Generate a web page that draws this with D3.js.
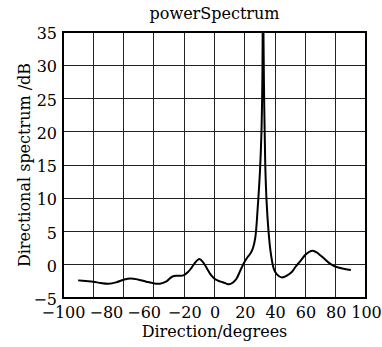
<!DOCTYPE html>
<html>
<head>
<meta charset="utf-8">
<script src="https://cdn.jsdelivr.net/npm/d3@7"></script>
<style>
  body { margin: 0; background: #fff; }
  text { font-family: "DejaVu Serif", serif; fill: #000; }
</style>
</head>
<body>
<div id="Chart"></div>
<script>
// values
const direction = [
  -90, -85, -80, -75, -70, -65, -60, -55.5, -50, -45, -40, -36, -32, -28, -24,
  -20.5, -17.5, -15, -12.5, -10, -7.5, -5, -2.5, 0, 2.5, 5, 7.5, 9.5, 12, 14.5,
  17, 19.5, 22, 24, 25.5, 27, 28.5, 30, 31, 31.6, 32, 32.6, 33.5, 34.5, 35.5,
  37, 39, 41, 44.5, 48, 51, 53.5, 56.5, 60, 62.5, 65, 67.5, 70, 73, 76, 79,
  82.5, 86, 90
];
const spectrum = [
  -2.35, -2.45, -2.55, -2.75, -2.85, -2.65, -2.25, -2.05, -2.25, -2.55, -2.8, -2.85, -2.55, -1.8, -1.65,
  -1.6, -1.1, -0.4, 0.4, 0.85, 0.35, -0.55, -1.5, -2.1, -2.4, -2.6, -2.8, -2.95, -2.7, -2.1,
  -0.9, 0.3, 1.2, 1.8, 2.6, 4.2, 8.5, 14, 20, 28, 42, 28, 15, 9, 5.5,
  2, -0.5, -1.4, -1.9, -1.6, -1.1, -0.3, 0.5, 1.5, 1.95, 2.1, 1.85, 1.4, 0.8, 0.2, -0.2,
  -0.45, -0.65, -0.8
];
const xTicks = [-100, -80, -60, -40, -20, 0, 20, 40, 60, 80, 100];
const xTickLabels = ["−100", "−80", "−60", "", "−20", "0", "20", "40", "60", "80", "100"];
const yTicks = [-5, 0, 5, 10, 15, 20, 25, 30, 35];
const yTickLabels = ["−5", "0", "5", "10", "15", "20", "25", "30", "35"];

const title  = "powerSpectrum";
const xTitle = "Direction/degrees";
const yTitle = "Directional spectrum /dB";

drawSpectrum("Chart");

function drawSpectrum(elId) {
  const dims = {
    width:  382,
    height: 347,
    left:    63,
    right:   16,
    top:     32,
    bottom:  49
  };
  const w = dims.width - dims.left - dims.right;
  const h = dims.height - dims.top - dims.bottom;

  const svg = d3.select("#" + elId)
    .append("svg")
      .attr("width", dims.width)
      .attr("height", dims.height);

  const xScale = d3.scaleLinear([-100, 100], [0, w]);
  const yScale = d3.scaleLinear([-5, 35], [h, 0]);

  const plotG = svg.append("g")
    .attr("transform", `translate(${dims.left} ${dims.top})`);

  svg.append("defs").append("clipPath").attr("id", "plotClip")
    .append("rect").attr("width", w).attr("height", h);

  // grid
  const gridG = plotG.append("g").attr("class", "grid")
    .attr("stroke", "#222").attr("stroke-width", 1)
    .attr("shape-rendering", "crispEdges");
  gridG.selectAll("line.vx")
    .data(xTicks.slice(1, -1))
    .join("line").attr("class", "vx")
      .attr("x1", d => xScale(d)).attr("x2", d => xScale(d))
      .attr("y1", 0).attr("y2", h);
  gridG.selectAll("line.hy")
    .data(yTicks.slice(1, -1))
    .join("line").attr("class", "hy")
      .attr("x1", 0).attr("x2", w)
      .attr("y1", d => yScale(d)).attr("y2", d => yScale(d));

  // axes, labels only (the frame is drawn below)
  const xAxisG = plotG.append("g")
    .attr("transform", `translate(0 ${h})`)
    .call(d3.axisBottom(xScale).tickValues(xTicks).tickSize(0)
      .tickFormat((d, i) => xTickLabels[i]));
  const yAxisG = plotG.append("g")
    .call(d3.axisLeft(yScale).tickValues(yTicks).tickSize(0)
      .tickFormat((d, i) => yTickLabels[i]));
  [xAxisG, yAxisG].forEach(g => {
    g.select(".domain").remove();
    g.selectAll("text")
      .style("font-family", "DejaVu Serif")
      .style("font-size", "16px")
      .attr("fill", "#000");
  });
  xAxisG.selectAll("text").attr("y", 9).attr("dy", "0.71em");
  yAxisG.selectAll("text").attr("x", -6).attr("dy", "0.42em");

  // push crowded x labels to the right, left to right
  let prevEnd = -Infinity;
  xAxisG.selectAll(".tick text").each(function () {
    if (!this.textContent) return;
    const tick = this.parentNode.transform.baseVal.consolidate().matrix.e;
    const bb = this.getBBox();
    const start = tick + bb.x;
    const shift = Math.max(0, prevEnd + 4 - start);
    d3.select(this).attr("dx", shift);
    prevEnd = start + shift + bb.width;
  });

  // spectrum line
  const points = direction.map((d, i) => [d, spectrum[i]]);
  const line = d3.line()
    .x(d => xScale(d[0]))
    .y(d => yScale(d[1]))
    .curve(d3.curveCatmullRom.alpha(0.5));
  plotG.append("path")
    .datum(points)
    .attr("clip-path", "url(#plotClip)")
    .attr("fill", "none")
    .attr("stroke", "#000")
    .attr("stroke-width", 2)
    .attr("stroke-linejoin", "round")
    .attr("d", line);

  // frame
  plotG.append("rect")
    .attr("width", w).attr("height", h)
    .attr("fill", "none")
    .attr("stroke", "#000")
    .attr("stroke-width", 2);

  // titles
  svg.append("text")
    .attr("x", dims.left + w / 2).attr("y", 19)
    .attr("text-anchor", "middle")
    .style("font-size", "16px")
    .text(title);
  svg.append("text")
    .attr("x", dims.left + w / 2).attr("y", 337)
    .attr("text-anchor", "middle")
    .style("font-size", "16px")
    .text(xTitle);
  svg.append("text")
    .attr("transform", `translate(30 ${dims.top + h / 2}) rotate(-90)`)
    .attr("text-anchor", "middle")
    .style("font-size", "16px")
    .text(yTitle);
}
</script>
</body>
</html>
